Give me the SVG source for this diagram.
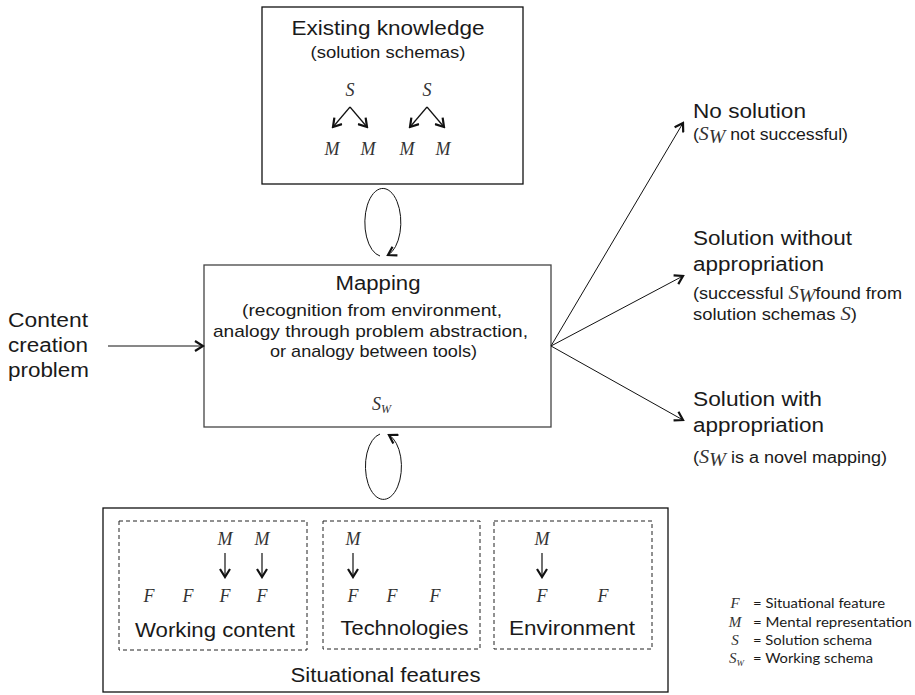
<svg xmlns="http://www.w3.org/2000/svg" width="915" height="695" viewBox="0 0 915 695">
  <style>
    .sans { font-family: "Liberation Sans", Arial, sans-serif; fill: #1a1a1a; }
    .t20 { font-size: 20px; }
    .t17 { font-size: 17px; }
    .t16 { font-size: 16px; }
    .var { font-family: "Liberation Serif", "Times New Roman", serif; font-style: italic; font-size: 18px; fill: #333; }
    .box { fill: #fff; stroke: #111; stroke-width: 1.3; }
    .dash { fill: none; stroke: #222; stroke-width: 1; stroke-dasharray: 4 3; }
    .edge { fill: none; stroke: #111; stroke-width: 1; }
    .arr { fill: none; stroke: #111; stroke-width: 1.2; marker-end: url(#head); }
    .key { font-family: Lato, "Open Sans", sans-serif; font-size: 13px; fill: #1a1a1a; }
    .kv { font-family: "Liberation Serif", "Times New Roman", serif; font-style: italic; font-size: 15px; fill: #333; }
  </style>
  <defs>
    <marker id="head" markerUnits="userSpaceOnUse" viewBox="-10 -6 12 12" refX="0" refY="0" markerWidth="12" markerHeight="12" orient="auto">
      <path d="M-8,-5 L0,0 L-8,5" fill="none" stroke="#111" stroke-width="2.2" stroke-linejoin="miter"/>
    </marker>
  </defs>

  <rect width="915" height="695" fill="#fff"/>

  <!-- existing knowledge -->
  <g id="existing-knowledge">
    <rect class="box" x="262" y="7" width="261" height="177"/>
    <text class="sans t20" x="388" y="35" text-anchor="middle" textLength="193" lengthAdjust="spacingAndGlyphs">Existing knowledge</text>
    <text class="sans t16" x="388" y="58" text-anchor="middle" textLength="155" lengthAdjust="spacingAndGlyphs">(solution schemas)</text>
    <text class="var" x="350" y="96" text-anchor="middle">S</text>
    <text class="var" x="427" y="96" text-anchor="middle">S</text>
    <text class="var" x="332" y="155" text-anchor="middle">M</text>
    <text class="var" x="368" y="155" text-anchor="middle">M</text>
    <text class="var" x="407" y="155" text-anchor="middle">M</text>
    <text class="var" x="443" y="155" text-anchor="middle">M</text>
    <path class="arr" d="M350,107 L333,127"/>
    <path class="arr" d="M350,107 L367,127"/>
    <path class="arr" d="M427,107 L410,127"/>
    <path class="arr" d="M427,107 L444,127"/>
  </g>

  <!-- mapping -->
  <g id="mapping">
    <rect class="box" x="204" y="265" width="347" height="162" style="stroke:#444"/>
    <text class="sans t20" x="378" y="290" text-anchor="middle" textLength="85" lengthAdjust="spacingAndGlyphs">Mapping</text>
    <text class="sans t17" x="372" y="316" text-anchor="middle" textLength="260" lengthAdjust="spacingAndGlyphs">(recognition from environment,</text>
    <text class="sans t17" x="370.5" y="337" text-anchor="middle" textLength="315" lengthAdjust="spacingAndGlyphs">analogy through problem abstraction,</text>
    <text class="sans t17" x="373.5" y="357" text-anchor="middle" textLength="207" lengthAdjust="spacingAndGlyphs">or analogy between tools)</text>
    <text class="var" x="372" y="410">S<tspan font-size="12" dy="3">W</tspan></text>
  </g>

  <!-- problem input -->
  <g id="problem">
    <text class="sans t20" x="8" y="327" textLength="80" lengthAdjust="spacingAndGlyphs">Content</text>
    <text class="sans t20" x="8" y="352" textLength="80" lengthAdjust="spacingAndGlyphs">creation</text>
    <text class="sans t20" x="8" y="377" textLength="81" lengthAdjust="spacingAndGlyphs">problem</text>
  </g>

  <!-- outcomes -->
  <g id="no-solution">
    <text class="sans t20" x="693" y="118" textLength="113" lengthAdjust="spacingAndGlyphs">No solution</text>
    <text class="sans t16" x="693" y="140" textLength="155" lengthAdjust="spacingAndGlyphs">(<tspan class="var" font-size="17">S</tspan><tspan class="var" font-size="10" dy="3">W</tspan><tspan dy="-3"> not successful)</tspan></text>
  </g>
  <g id="solution-without-appropriation">
    <text class="sans t20" x="693" y="245" textLength="159" lengthAdjust="spacingAndGlyphs">Solution without</text>
    <text class="sans t20" x="693" y="271" textLength="131" lengthAdjust="spacingAndGlyphs">appropriation</text>
    <text class="sans t16" x="693" y="299" textLength="209" lengthAdjust="spacingAndGlyphs">(successful <tspan class="var" font-size="17">S</tspan><tspan class="var" font-size="10" dy="3">W</tspan><tspan dy="-3">found from</tspan></text>
    <text class="sans t16" x="693" y="320" textLength="164" lengthAdjust="spacingAndGlyphs">solution schemas <tspan class="var" font-size="17">S</tspan>)</text>
  </g>
  <g id="solution-with-appropriation">
    <text class="sans t20" x="693" y="406" textLength="129" lengthAdjust="spacingAndGlyphs">Solution with</text>
    <text class="sans t20" x="693" y="432" textLength="131" lengthAdjust="spacingAndGlyphs">appropriation</text>
    <text class="sans t16" x="693" y="463" textLength="194" lengthAdjust="spacingAndGlyphs">(<tspan class="var" font-size="17">S</tspan><tspan class="var" font-size="10" dy="3">W</tspan><tspan dy="-3"> is a novel mapping)</tspan></text>
  </g>

  <!-- situational features -->
  <g id="situational-features">
    <rect class="box" x="103" y="508" width="565" height="184"/>
    <text class="sans t20" x="385.5" y="682" text-anchor="middle" textLength="190" lengthAdjust="spacingAndGlyphs">Situational features</text>
  </g>
  <g id="working-content">
    <rect class="dash" x="119" y="521" width="188" height="129"/>
    <text class="var" x="225" y="545" text-anchor="middle">M</text>
    <text class="var" x="262" y="545" text-anchor="middle">M</text>
    <path class="arr" d="M225,553 L225,577"/>
    <path class="arr" d="M262,553 L262,577"/>
    <text class="var" x="149" y="602" text-anchor="middle">F</text>
    <text class="var" x="188" y="602" text-anchor="middle">F</text>
    <text class="var" x="225" y="602" text-anchor="middle">F</text>
    <text class="var" x="262" y="602" text-anchor="middle">F</text>
    <text class="sans t20" x="215" y="637" text-anchor="middle" textLength="160" lengthAdjust="spacingAndGlyphs">Working content</text>
  </g>
  <g id="technologies">
    <rect class="dash" x="323" y="521" width="157" height="128"/>
    <text class="var" x="353" y="545" text-anchor="middle">M</text>
    <path class="arr" d="M353,553 L353,577"/>
    <text class="var" x="353" y="602" text-anchor="middle">F</text>
    <text class="var" x="392" y="602" text-anchor="middle">F</text>
    <text class="var" x="435" y="602" text-anchor="middle">F</text>
    <text class="sans t20" x="404.5" y="635" text-anchor="middle" textLength="128" lengthAdjust="spacingAndGlyphs">Technologies</text>
  </g>
  <g id="environment">
    <rect class="dash" x="494" y="521" width="158" height="128"/>
    <text class="var" x="542" y="545" text-anchor="middle">M</text>
    <path class="arr" d="M542,553 L542,577"/>
    <text class="var" x="542" y="602" text-anchor="middle">F</text>
    <text class="var" x="603" y="602" text-anchor="middle">F</text>
    <text class="sans t20" x="572" y="635" text-anchor="middle" textLength="126" lengthAdjust="spacingAndGlyphs">Environment</text>
  </g>

  <!-- legend -->
  <g id="legend">
    <text class="kv" x="735" y="608" text-anchor="middle">F</text>
    <text class="key" x="753" y="608" textLength="132" lengthAdjust="spacingAndGlyphs">= Situational feature</text>
    <text class="kv" x="735" y="627" text-anchor="middle">M</text>
    <text class="key" x="753" y="627" textLength="159" lengthAdjust="spacingAndGlyphs">= Mental representation</text>
    <text class="kv" x="735" y="645" text-anchor="middle">S</text>
    <text class="key" x="753" y="645" textLength="119" lengthAdjust="spacingAndGlyphs">= Solution schema</text>
    <text class="kv" x="729" y="663">S<tspan font-size="9" dy="3">W</tspan></text>
    <text class="key" x="753" y="663" textLength="120" lengthAdjust="spacingAndGlyphs">= Working schema</text>
  </g>

  <!-- connectors -->
  <g id="connectors">
    <path class="edge" d="M108,346 L203,346" style="marker-end:url(#head)"/>
    <path class="edge" d="M380,256 A18,34 0 1 1 388,255" style="marker-end:url(#head)"/>
    <path class="edge" d="M380,434 A18,33 0 1 0 389,435" style="marker-end:url(#head)"/>
    <path class="edge" d="M551,346 L683,123" style="marker-end:url(#head)"/>
    <path class="edge" d="M551,346 L683,276" style="marker-end:url(#head)"/>
    <path class="edge" d="M551,346 L683,420" style="marker-end:url(#head)"/>
  </g>
</svg>
